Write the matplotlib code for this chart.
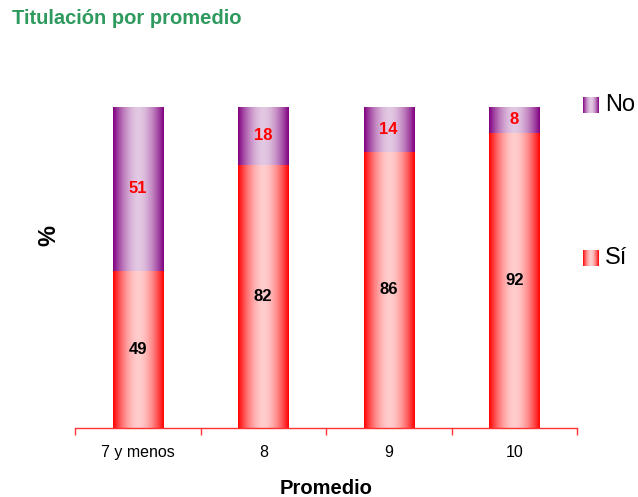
import numpy as np
import matplotlib
matplotlib.use("Agg")
import matplotlib.pyplot as plt
from matplotlib.colors import LinearSegmentedColormap

plt.rcParams['font.family'] = ['Liberation Sans', 'DejaVu Sans']

categories = ["7 y menos", "8", "9", "10"]
si_values = [49, 82, 86, 92]
no_values = [51, 18, 14, 8]
title = "Titulación por promedio"
xlabel = "Promedio"
ylabel = "%"

si_dark, si_light = "#FF0000", "#FFCCCC"
no_dark, no_light = "#800080", "#E2C8E2"

prof = np.linspace(-1, 1, 200)
prof = 1 - np.abs(prof) ** 1.8  # 0 at edges, 1 at center
grad = prof[np.newaxis, :]

def cmap_of(dark, light):
    return LinearSegmentedColormap.from_list("g", [dark, light])

fig = plt.figure(figsize=(6.38, 4.97), dpi=100)
W, H = 638, 497
ax = fig.add_axes([75 / W, (H - 428) / H, (577 - 75) / W, (428 - 107) / H])

x = np.arange(len(categories))
width = 0.4
bars_si = ax.bar(x, si_values, width, color="none", edgecolor="none")
bars_no = ax.bar(x, no_values, width, bottom=si_values, color="none", edgecolor="none")

for bars, dark, light in ((bars_si, si_dark, si_light), (bars_no, no_dark, no_light)):
    cm = cmap_of(dark, light)
    for b in bars:
        x0, y0 = b.get_x(), b.get_y()
        ax.imshow(grad, cmap=cm, vmin=0, vmax=1, aspect="auto",
                  extent=(x0, x0 + b.get_width(), y0, y0 + b.get_height()),
                  zorder=2, interpolation="bilinear")

for b, v in zip(bars_si, si_values):
    ax.text(b.get_x() + b.get_width() / 2, b.get_y() + b.get_height() / 2, str(v),
            ha="center", va="center", fontsize=12, fontweight="bold", color="black", zorder=3)
for b, v in zip(bars_no, no_values):
    ax.text(b.get_x() + b.get_width() / 2, b.get_y() + b.get_height() / 2, str(v),
            ha="center", va="center", fontsize=12, fontweight="bold", color="#FF0000", zorder=3)

ax.set_xlim(-0.5, len(categories) - 0.5)
ax.set_ylim(0, 100)
for s in ("top", "right", "left"):
    ax.spines[s].set_visible(False)
ax.spines["bottom"].set_color("#FF3333")
ax.spines["bottom"].set_linewidth(1)
ax.set_yticks([])
ax.set_xticks(np.arange(-0.5, len(categories)), minor=False)
ax.set_xticklabels([])
ax.set_xticks(x, minor=True)
ax.set_xticklabels(categories, minor=True, fontsize=11.5)
ax.tick_params(axis="x", which="major", direction="out", length=5, color="#FF3333", width=1)
ax.tick_params(axis="x", which="minor", length=0, pad=12)

fig.text(326 / W, 1 - 489 / H, xlabel, fontsize=14.5, fontweight="bold",
         ha="center", va="center")
fig.text(49 / W, 1 - 235 / H, ylabel, fontsize=17, fontweight="bold", rotation=90,
         ha="center", va="center")

fig.text(12 / W, 1 - 18 / H, title, fontsize=14.5, fontweight="bold", color="#2E9A5E",
         ha="left", va="center")

# legend with gradient squares
for lbl, dark, light, ycen in (("No", no_dark, no_light, 105), ("Sí", si_dark, si_light, 258)):
    lax = fig.add_axes([583 / W, 1 - (ycen + 8) / H, 16 / W, 16 / H])
    lax.imshow(grad, cmap=cmap_of(dark, light), vmin=0, vmax=1, aspect="auto",
               interpolation="bilinear")
    lax.axis("off")
    fig.text(605 / W, 1 - ycen / H, lbl, fontsize=17, ha="left", va="center")

fig.savefig("out.png", dpi=100)
